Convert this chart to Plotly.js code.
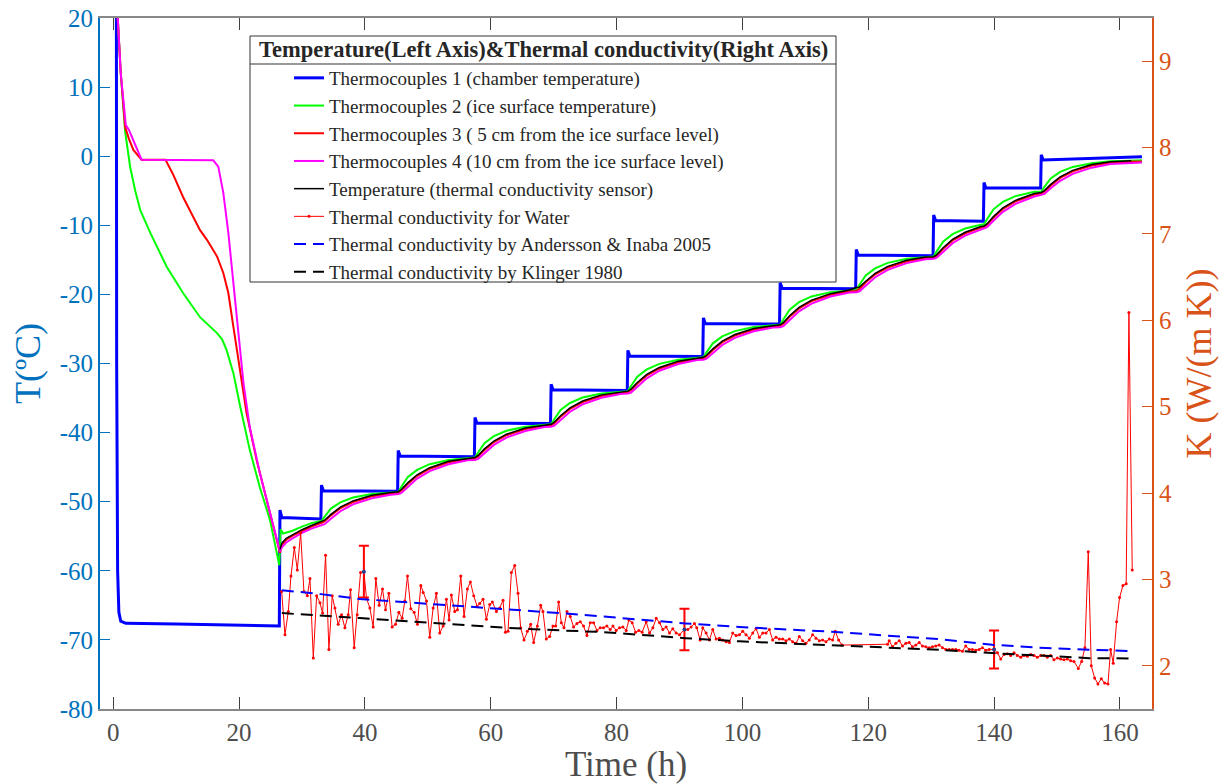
<!DOCTYPE html>
<html><head><meta charset="utf-8">
<script src="https://cdn.plot.ly/plotly-3.0.1.min.js"></script>
<style>html,body{margin:0;padding:0;background:#fff}#chart{width:1229px;height:784px}</style>
</head><body><div id="chart"></div>
<script>
// ---------- Temperature data (left axis, deg C) ----------
const tc1Hours = [0.5, 0.55, 0.7, 0.9, 1.2, 2.0, 10, 20, 26.4, 26.5, 26.8, 33.0, 33.1, 33.4, 45.2, 45.3, 45.6, 57.4, 57.5, 57.8, 69.5, 69.6, 69.9, 81.7, 81.8, 82.1, 93.7, 93.8, 94.1, 105.9, 106.0, 106.3, 118.0, 118.1, 118.4, 130.3, 130.4, 130.7, 138.3, 138.4, 138.7, 147.4, 147.5, 147.8, 155.0, 163.5];
const tc1Temp = [25, -30, -60, -66, -67.3, -67.6, -67.7, -67.9, -68.0, -51.2, -52.3, -52.5, -47.6, -48.4, -48.5, -42.6, -43.4, -43.5, -37.8, -38.6, -38.7, -33.0, -33.8, -33.9, -28.1, -28.9, -29.0, -23.4, -24.2, -24.3, -18.3, -19.1, -19.2, -13.5, -14.3, -14.4, -8.5, -9.3, -9.4, -3.8, -4.6, -4.6, 0.2, -0.55, -0.3, -0.07];

// hours of the stepped part shared by thermocouples 2-4
const stepHours = [33.1, 33.6, 34.6, 36.1, 38.1, 41.1, 44.1,
  45.3, 45.8, 46.8, 48.3, 50.3, 53.3, 56.3,
  57.5, 58.0, 59.0, 60.5, 62.5, 65.5, 68.5,
  69.6, 70.1, 71.1, 72.6, 74.6, 77.6, 80.6,
  81.8, 82.3, 83.3, 84.8, 86.8, 89.8, 92.8,
  93.8, 94.3, 95.3, 96.8, 98.8, 101.8, 104.8,
  106.0, 106.5, 107.5, 109.0, 111.0, 114.0, 117.0,
  118.1, 118.6, 119.6, 121.1, 123.1, 126.1, 129.1,
  130.4, 130.9, 131.9, 133.4, 135.4, 137.9,
  138.4, 138.9, 139.9, 141.4, 143.4, 146.4,
  147.5, 148.0, 149.0, 150.5, 152.5, 155.5, 158.5, 161.5, 163.5];

const tc2EarlyHours = [0.6, 1.2, 1.9, 2.7, 3.5, 4.3, 5.9, 8.5, 11.1, 13.8, 16.5, 17.3, 18.0, 19.1, 20.2, 21.7, 23.3, 24.9, 26.4, 26.6, 27.0, 27.5, 28.5, 30.0, 31.5, 33.0];
const tc2EarlyTemp = [22, 12, 3.5, -1.6, -5.0, -7.8, -11.1, -16.0, -19.8, -23.3, -25.6, -26.5, -28.0, -31.4, -36.3, -42.5, -47.9, -52.6, -59.2, -54.0, -54.6, -54.5, -54.2, -53.6, -53.1, -52.8];
const tc2StepTemp = [-52.8, -52.16, -50.99, -50.09, -49.4, -48.89, -48.63,
  -48.6, -47.84, -46.46, -45.39, -44.57, -43.96, -43.65,
  -43.6, -42.87, -41.54, -40.51, -39.73, -39.14, -38.85,
  -38.8, -38.07, -36.74, -35.71, -34.93, -34.34, -34.05,
  -34.0, -33.25, -31.9, -30.85, -30.05, -29.45, -29.15,
  -29.1, -28.38, -27.08, -26.08, -25.31, -24.73, -24.44,
  -24.4, -23.62, -22.22, -21.12, -20.29, -19.67, -19.36,
  -19.35, -18.61, -17.27, -16.23, -15.44, -14.85, -14.55,
  -14.5, -13.74, -12.36, -11.29, -10.47, -9.91,
  -9.85, -9.08, -7.69, -6.61, -5.78, -5.16,
  -5.1, -4.43, -3.21, -2.27, -1.55, -1.01, -0.74, -0.65, -0.6];

const tc3EarlyHours = [0.6, 1.2, 1.9, 2.5, 3.2, 4.5, 8.3, 9.5, 11.1, 13.8, 14.9, 16.5, 17.5, 18.3, 19.1, 20.2, 21.2, 22.8, 24.4, 26.5, 26.8, 27.5, 28.5, 30.0, 31.5, 33.0];
const tc3EarlyTemp = [22, 12, 4.2, 2.5, 0.9, -0.5, -0.5, -2.6, -5.9, -10.7, -12.1, -14.5, -16.9, -19.8, -24.7, -31.4, -37.2, -44.0, -49.8, -57.4, -56.3, -55.5, -54.9, -54.2, -53.6, -53.1];
const tc3StepTemp = [-53.1, -52.83, -51.98, -50.94, -50.04, -49.23, -48.83,
  -48.7, -48.39, -47.43, -46.25, -45.23, -44.31, -43.86,
  -43.75, -43.45, -42.51, -41.37, -40.38, -39.49, -39.05,
  -38.95, -38.65, -37.71, -36.57, -35.58, -34.69, -34.25,
  -34.15, -33.85, -32.89, -31.73, -30.72, -29.81, -29.35,
  -29.25, -28.96, -28.04, -26.92, -25.95, -25.08, -24.64,
  -24.55, -24.24, -23.24, -22.03, -20.98, -20.04, -19.56,
  -19.5, -19.2, -18.25, -17.1, -16.1, -15.2, -14.75,
  -14.7, -14.39, -13.4, -12.2, -11.16, -10.33,
  -10.25, -9.92, -8.89, -7.63, -6.54, -5.56,
  -5.4, -5.12, -4.23, -3.14, -2.2, -1.36, -0.95, -0.79, -0.75];

const tc4EarlyHours = [0.6, 1.2, 2.0, 2.5, 4.5, 10.0, 15.9, 16.7, 17.5, 18.3, 19.1, 19.9, 20.7, 21.7, 23.3, 24.9, 26.5, 26.8, 27.5, 28.5, 30.0, 31.5, 33.0];
const tc4EarlyTemp = [22, 12, 4.5, 3.8, -0.5, -0.6, -0.6, -1.5, -5.3, -11.1, -18.9, -25.6, -32.8, -39.2, -45.8, -51.6, -57.2, -56.6, -55.9, -55.3, -54.5, -53.9, -53.4];
const tc4StepTemp = [-53.4, -53.26, -52.46, -51.38, -50.39, -49.5, -48.98,
  -48.9, -48.74, -47.86, -46.66, -45.57, -44.58, -44.01,
  -43.95, -43.8, -42.94, -41.78, -40.72, -39.76, -39.2,
  -39.15, -39.0, -38.14, -36.98, -35.92, -34.96, -34.4,
  -34.35, -34.2, -33.32, -32.14, -31.05, -30.08, -29.51,
  -29.45, -29.3, -28.46, -27.32, -26.28, -25.34, -24.8,
  -24.75, -24.59, -23.68, -22.45, -21.33, -20.31, -19.72,
  -19.7, -19.55, -18.68, -17.51, -16.44, -15.47, -14.91,
  -14.85, -14.69, -13.8, -12.59, -11.49, -10.65,
  -10.45, -10.28, -9.34, -8.06, -6.9, -5.84,
  -5.6, -5.46, -4.65, -3.56, -2.56, -1.66, -1.14, -0.95, -0.9];

const sensorHours = [26.5, 26.8, 27.5, 28.5, 30.0, 31.5, 33.0,
  33.1, 33.6, 34.6, 36.1, 38.1, 41.1, 44.1,
  45.3, 45.8, 46.8, 48.3, 50.3, 53.3, 56.3,
  57.5, 58.0, 59.0, 60.5, 62.5, 65.5, 68.5,
  69.6, 70.1, 71.1, 72.6, 74.6, 77.6, 80.6,
  81.8, 82.3, 83.3, 84.8, 86.8, 89.8, 92.8,
  93.8, 94.3, 95.3, 96.8, 98.8, 101.8, 104.8,
  106.0, 106.5, 107.5, 109.0, 111.0, 114.0, 117.0,
  118.1, 118.6, 119.6, 121.1, 123.1, 126.1, 129.1,
  130.4, 130.9, 131.9, 133.4, 135.4, 137.9,
  138.4, 138.9, 139.9, 141.4, 143.4, 146.4,
  147.5, 148.0, 149.0, 150.5, 152.5, 155.5, 158.5, 161.8];
const sensorTemp = [-56.9, -56.0, -55.3, -54.75, -54.05, -53.45, -52.95,
  -52.95, -52.68, -51.83, -50.79, -49.89, -49.08, -48.68,
  -48.55, -48.24, -47.28, -46.1, -45.08, -44.16, -43.71,
  -43.6, -43.3, -42.36, -41.22, -40.23, -39.34, -38.9,
  -38.8, -38.5, -37.56, -36.42, -35.43, -34.54, -34.1,
  -34.0, -33.7, -32.74, -31.58, -30.57, -29.66, -29.2,
  -29.1, -28.81, -27.89, -26.77, -25.8, -24.93, -24.49,
  -24.4, -24.09, -23.09, -21.88, -20.83, -19.89, -19.35,
  -19.0, -18.95, -18.1, -16.95, -15.95, -15.05, -14.6,
  -14.55, -14.24, -13.25, -12.05, -11.01, -10.18,
  -10.1, -9.77, -8.74, -7.48, -6.39, -5.41,
  -5.25, -4.97, -4.08, -2.99, -2.05, -1.21, -0.8, -0.65];

// ---------- Thermal conductivity data (right axis, W/(m K)) ----------
const kHours = [26.77, 27.30, 27.83, 28.25, 28.78, 29.26, 29.79, 30.31, 30.85, 31.27,
  31.80, 32.33, 32.86, 33.28, 33.75, 34.28, 34.81, 35.24, 35.76, 36.29,
  36.82, 37.35, 37.72, 38.30, 38.78, 39.31, 39.84, 40.26, 40.79, 41.32,
  41.74, 42.27, 42.80, 43.28, 43.81, 44.33, 44.87, 45.40, 45.92, 46.35,
  46.77, 47.30, 47.83, 48.36, 48.89, 49.26, 49.79, 50.31, 50.85, 51.37,
  51.90, 52.43, 52.96, 53.38, 53.75, 54.28, 54.71, 55.24, 55.76, 56.29,
  56.77, 57.30, 57.83, 58.25, 58.78, 59.31, 59.84, 60.26, 60.90, 61.43,
  61.96, 62.33, 62.75, 63.28, 63.81, 64.34, 64.76, 65.29, 65.82, 66.35,
  66.82, 67.41, 67.94, 68.30, 68.83, 69.36, 69.89, 70.32, 70.79, 71.22,
  71.64, 72.12, 72.64, 73.17, 73.70, 74.23, 74.76, 75.29, 75.82, 76.35,
  76.88, 77.40, 77.93, 78.46, 78.99, 79.42, 79.94, 80.47, 81.00, 81.53,
  81.96, 82.49, 83.02, 83.54, 84.07, 84.71, 85.24, 85.77, 86.30, 86.83,
  87.35, 87.88, 88.41, 88.94, 89.47, 90.00, 90.79, 91.32, 91.85, 92.38,
  92.75, 93.28, 93.70, 94.23, 94.76, 95.29, 95.82, 96.35, 96.88, 97.41,
  97.94, 98.46, 98.99, 99.52, 100.05, 100.58, 101.11, 101.64, 102.17, 102.70,
  103.23, 103.76, 104.29, 104.81, 105.34, 105.87, 106.40, 106.93, 107.46, 107.99,
  108.52, 109.05, 109.58, 110.10, 110.63, 111.16, 111.69, 112.22, 112.75, 113.28,
  113.81, 114.34, 114.76, 115.29, 115.82, 123.07, 123.33, 123.86, 124.39, 124.92,
  125.45, 125.98, 126.51, 127.04, 127.57, 128.10, 128.62, 129.15, 129.68, 130.21,
  130.74, 131.27, 131.80, 132.33, 132.86, 133.39, 133.92, 134.44, 134.97, 135.50,
  136.03, 136.56, 137.09, 137.62, 138.15, 138.68, 139.21, 140.00, 140.53, 141.06,
  141.59, 142.12, 142.64, 143.17, 143.70, 144.23, 144.76, 145.29, 145.82, 146.35,
  146.88, 147.41, 147.94, 148.46, 148.99, 149.52, 150.05, 150.58, 151.11, 151.64,
  152.17, 152.70, 153.39, 153.92, 154.44, 154.97, 155.45, 155.98, 156.51, 157.04,
  157.57, 158.10, 158.52, 158.94, 159.47, 159.95, 160.48, 161.00, 161.43, 161.96];
const kWater = [2.86, 2.36, 2.63, 3.04, 3.37, 3.11, 3.54, 2.86, 2.81, 3.01,
  2.09, 2.81, 2.73, 2.61, 3.28, 2.19, 2.81, 2.67, 2.48, 2.59,
  2.44, 2.59, 2.88, 2.21, 2.59, 3.08, 3.09, 2.78, 2.67, 2.45,
  3.01, 2.70, 2.89, 2.65, 2.84, 2.45, 2.48, 2.62, 2.55, 2.75,
  3.04, 2.66, 2.62, 2.48, 2.93, 2.85, 2.75, 2.33, 2.67, 2.84,
  2.38, 2.46, 2.77, 2.53, 2.82, 2.63, 2.65, 3.04, 2.57, 2.89,
  2.97, 2.81, 2.69, 2.72, 2.77, 2.54, 2.71, 2.74, 2.63, 2.67,
  2.76, 2.39, 2.40, 3.08, 3.16, 2.84, 2.44, 2.30, 2.40, 2.48,
  2.27, 2.46, 2.70, 2.63, 2.31, 2.34, 2.46, 2.46, 2.74, 2.50,
  2.44, 2.63, 2.57, 2.45, 2.49, 2.51, 2.46, 2.35, 2.50, 2.50,
  2.41, 2.44, 2.44, 2.46, 2.42, 2.46, 2.41, 2.44, 2.45, 2.41,
  2.53, 2.50, 2.39, 2.41, 2.39, 2.51, 2.38, 2.44, 2.55, 2.50,
  2.42, 2.45, 2.38, 2.43, 2.38, 2.36, 2.42, 2.42, 2.45, 2.49,
  2.44, 2.30, 2.44, 2.38, 2.30, 2.42, 2.31, 2.32, 2.30, 2.28,
  2.27, 2.38, 2.35, 2.36, 2.40, 2.36, 2.32, 2.38, 2.43, 2.33,
  2.38, 2.38, 2.42, 2.30, 2.33, 2.31, 2.31, 2.29, 2.31, 2.28,
  2.26, 2.34, 2.29, 2.26, 2.30, 2.36, 2.32, 2.29, 2.30, 2.28,
  2.31, 2.30, 2.40, 2.30, 2.24, 2.25, 2.29, 2.22, 2.26, 2.29,
  2.23, 2.26, 2.27, 2.22, 2.24, 2.27, 2.23, 2.22, 2.21, 2.22,
  2.23, 2.24, 2.21, 2.19, 2.19, 2.19, 2.19, 2.18, 2.17, 2.23,
  2.19, 2.19, 2.18, 2.19, 2.21, 2.18, 2.19, 2.19, 2.15, 2.08,
  2.13, 2.14, 2.12, 2.15, 2.12, 2.10, 2.12, 2.11, 2.13, 2.12,
  2.10, 2.12, 2.12, 2.10, 2.12, 2.07, 2.09, 2.08, 2.07, 2.08,
  2.06, 2.05, 1.97, 2.05, 2.21, 3.32, 2.00, 1.86, 1.79, 1.85,
  1.80, 1.79, 2.19, 2.03, 2.51, 2.79, 2.93, 2.95, 6.09, 3.11];

const errHours = [39.84, 90.79, 140.0];
const errK = [3.09, 2.42, 2.19];
const errBar = [0.30, 0.24, 0.22];

const modelHours = [26.8, 33, 39.2, 47, 55.1, 63, 71, 78, 83.65, 91, 99.5, 107, 115.4, 123, 131.3, 139.7, 147, 155.1, 162];
const kAndersson = [2.875, 2.83, 2.774, 2.735, 2.696, 2.655, 2.61, 2.57, 2.534, 2.49, 2.449, 2.42, 2.39, 2.35, 2.31, 2.244, 2.21, 2.186, 2.17];
const kKlinger = [2.61, 2.585, 2.553, 2.515, 2.476, 2.437, 2.41, 2.39, 2.36, 2.32, 2.283, 2.26, 2.236, 2.21, 2.186, 2.147, 2.12, 2.089, 2.085];

// ---------- Ticks & labels ----------
const xTicks = [0, 20, 40, 60, 80, 100, 120, 140, 160];
const tTicks = [-80, -70, -60, -50, -40, -30, -20, -10, 0, 10, 20];
const tTickText = ['-80', '-70', '-60', '-50', '-40', '-30', '-20', '-10', '0', '10', '20'];
const kTicks = [2, 3, 4, 5, 6, 7, 8, 9];
const seriesNames = [
  'Thermocouples 1 (chamber temperature)',
  'Thermocouples 2 (ice surface temperature)',
  'Thermocouples 3 ( 5 cm from the ice surface level)',
  'Thermocouples 4 (10 cm from the ice surface level)',
  'Temperature (thermal conductivity sensor)',
  'Thermal conductivity for Water',
  'Thermal conductivity by Andersson &amp; Inaba 2005',
  'Thermal conductivity by Klinger 1980'
];
const legendTitle = '<b>Temperature(Left Axis)&amp;Thermal conductivity(Right Axis)</b>';

const serif = 'Liberation Serif, Times New Roman, serif';
const cBlueAx = '#0072BD', cOrangeAx = '#D95319';

const traces = [
  {x: tc1Hours, y: tc1Temp, name: seriesNames[0], mode: 'lines', line: {color: '#0000FF', width: 3}},
  {x: tc2EarlyHours.concat(stepHours), y: tc2EarlyTemp.concat(tc2StepTemp), name: seriesNames[1], mode: 'lines', line: {color: '#00FF00', width: 2}},
  {x: tc3EarlyHours.concat(stepHours), y: tc3EarlyTemp.concat(tc3StepTemp), name: seriesNames[2], mode: 'lines', line: {color: '#FF0000', width: 2}},
  {x: tc4EarlyHours.concat(stepHours), y: tc4EarlyTemp.concat(tc4StepTemp), name: seriesNames[3], mode: 'lines', line: {color: '#FF00FF', width: 2}},
  {x: sensorHours, y: sensorTemp, name: seriesNames[4], mode: 'lines', line: {color: '#000000', width: 1.5}},
  {x: kHours, y: kWater, yaxis: 'y2', name: seriesNames[5], mode: 'lines+markers', line: {color: '#FF0000', width: 1}, marker: {color: '#FF0000', size: 3}},
  {x: errHours, y: errK, yaxis: 'y2', mode: 'markers', showlegend: false, marker: {color: '#23408f', size: 4},
    error_y: {type: 'data', array: errBar, visible: true, color: '#FF0000', thickness: 2, width: 5}},
  {x: modelHours, y: kAndersson, yaxis: 'y2', name: seriesNames[6], mode: 'lines', line: {color: '#0000FF', width: 2, dash: '12px,7px'}},
  {x: modelHours, y: kKlinger, yaxis: 'y2', name: seriesNames[7], mode: 'lines', line: {color: '#000000', width: 2, dash: '12px,7px'}}
];

const H = 784, W = 1229, mL = 100, mR = 77, mT = 18, mB = 75;
const pw = W - mL - mR, ph = H - mT - mB;
const px = v => (v - mL) / pw;
const py = v => 1 - (v - mT) / ph;

const layout = {
  width: W, height: H,
  margin: {l: mL, r: mR, t: mT, b: mB, pad: 0},
  paper_bgcolor: '#ffffff', plot_bgcolor: '#ffffff',
  font: {family: serif, size: 25, color: '#404040'},
  showlegend: true, hovermode: false,
  xaxis: {range: [-2.1, 165.1], tickvals: xTicks, ticks: 'inside', ticklen: 12, tickwidth: 1, tickcolor: '#404040',
    showline: true, linecolor: '#888888', linewidth: 2, mirror: 'ticks', showgrid: false, zeroline: false,
    tickfont: {family: serif, size: 25, color: '#4d4d4d'},
    title: {text: 'Time (h)', font: {family: serif, size: 35, color: '#4d4d4d'}, standoff: 8}},
  yaxis: {range: [-80, 20], tickvals: tTicks, ticktext: tTickText, ticks: 'inside', ticklen: 10, tickwidth: 1, tickcolor: cBlueAx,
    showline: true, linecolor: cBlueAx, linewidth: 2, showgrid: false, zeroline: false,
    tickfont: {family: serif, size: 25, color: cBlueAx},
    title: {text: 'T(ºC)', font: {family: serif, size: 36, color: cBlueAx}, standoff: 8}},
  yaxis2: {overlaying: 'y', side: 'right', range: [1.5, 9.5], tickvals: kTicks, ticks: 'inside', ticklen: 10, tickwidth: 1, tickcolor: cOrangeAx,
    showline: true, linecolor: cOrangeAx, linewidth: 2, showgrid: false, zeroline: false,
    tickfont: {family: serif, size: 25, color: cOrangeAx},
    title: {text: 'K (W/(m K))', font: {family: serif, size: 36, color: cOrangeAx}, standoff: 15}},
  legend: {x: px(289), y: py(59), xanchor: 'left', yanchor: 'top', bgcolor: 'rgba(0,0,0,0)', borderwidth: 0,
    font: {family: serif, size: 19, color: '#262626'}, itemwidth: 30, traceorder: 'normal'},
  shapes: [
    {type: 'rect', xref: 'paper', yref: 'paper', x0: px(250), x1: px(836), y0: py(282), y1: py(36),
      line: {color: '#333333', width: 1}, fillcolor: '#ffffff', layer: 'below'},
    {type: 'line', xref: 'paper', yref: 'paper', x0: px(250), x1: px(836), y0: py(64), y1: py(64),
      line: {color: '#333333', width: 1}, layer: 'below'}
  ],
  annotations: [
    {text: legendTitle, xref: 'paper', yref: 'paper', x: px(543), y: py(50), xanchor: 'center', yanchor: 'middle',
      showarrow: false, font: {family: serif, size: 22.5, color: '#262626'}}
  ]
};

Plotly.newPlot('chart', traces, layout, {displayModeBar: false, staticPlot: true});
</script></body></html>
